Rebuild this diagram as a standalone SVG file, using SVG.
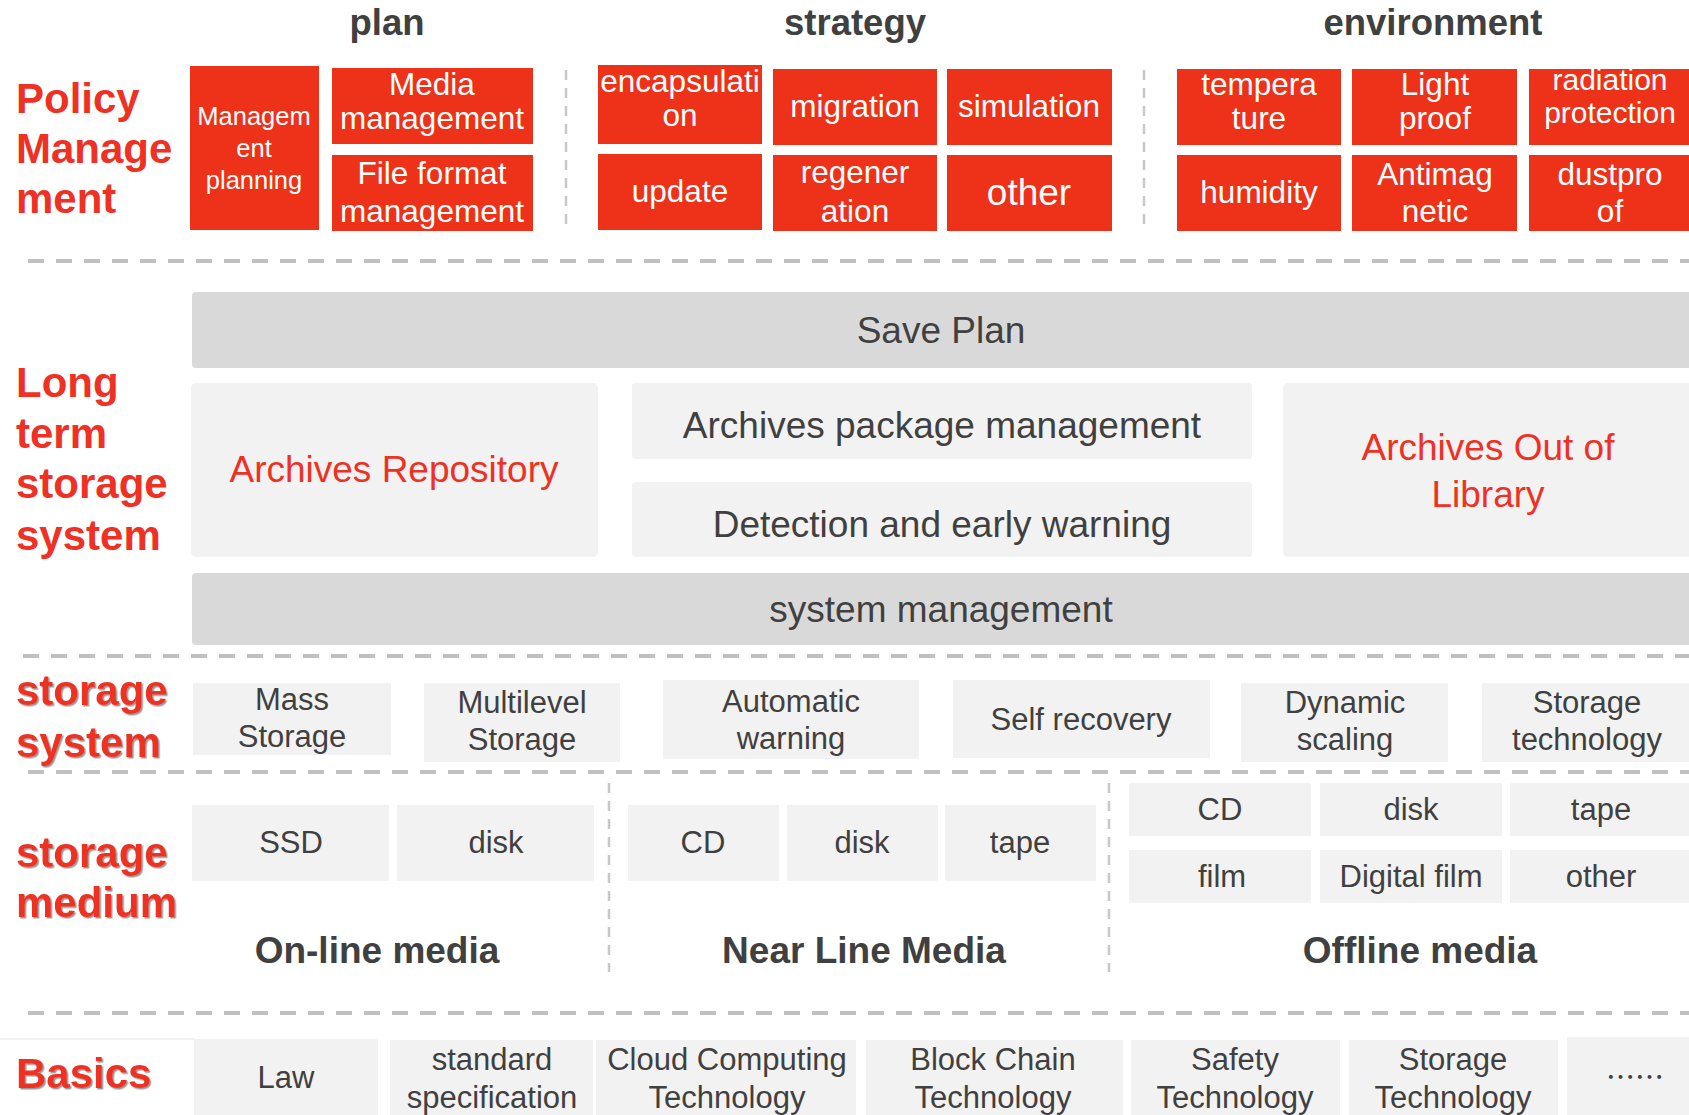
<svg xmlns="http://www.w3.org/2000/svg" width="1689" height="1115" viewBox="0 0 1689 1115">
<defs>
<style>
text{font-family:"Liberation Sans",Arial,sans-serif;text-anchor:middle}
.red{fill:#ee3219}
.lt{fill:#f2f2f2}
.dk{fill:#d9d9d9}
.w{fill:#fff;font-size:31.5px}
.g{fill:#404040;font-size:31px}
.g37{fill:#404040;font-size:37px}
.r37{fill:#ee3124;font-size:37px}
.lbl{fill:#ee3124;font-size:42px;font-weight:bold;text-anchor:start}
.hdr{fill:#404040;font-size:36.5px;font-weight:bold}
.sep{stroke:#c0c0c0;stroke-width:4;stroke-dasharray:16 12;fill:none}
.vsep{stroke:#c8c8c8;stroke-width:2.5;stroke-dasharray:10 8;fill:none}
</style>
<filter id="sh" x="-10%" y="-10%" width="130%" height="130%">
<feDropShadow dx="1.5" dy="1.5" stdDeviation="0.6" flood-color="#7f7f7f" flood-opacity="0.8"/>
</filter>
</defs>
<rect width="1689" height="1115" fill="#fff"/>

<g id="separators">
<line class="sep" x1="28" y1="261" x2="1689" y2="261"/>
<line class="sep" x1="23" y1="656" x2="1689" y2="656"/>
<line class="sep" x1="28" y1="772" x2="1689" y2="772"/>
<line class="sep" x1="28" y1="1013" x2="1689" y2="1013"/>
<line class="vsep" x1="566" y1="70" x2="566" y2="230"/>
<line class="vsep" x1="1144" y1="70" x2="1144" y2="230"/>
<line class="vsep" x1="609" y1="783" x2="609" y2="972"/>
<line class="vsep" x1="1109" y1="783" x2="1109" y2="972"/>
<line x1="0" y1="1039" x2="194" y2="1039" stroke="#ececec" stroke-width="1.5"/>
</g>

<!-- Section labels -->
<g id="label-policy">
<text class="lbl" x="16" y="113">Policy</text>
<text class="lbl" x="16" y="163">Manage</text>
<text class="lbl" x="16" y="213">ment</text>
</g>
<g id="label-longterm">
<text class="lbl" x="16" y="397">Long</text>
<text class="lbl" x="16" y="448">term</text>
<text class="lbl" x="16" y="498">storage</text>
<text class="lbl" x="16" y="550">system</text>
</g>
<g id="label-storage-system" filter="url(#sh)">
<text class="lbl" x="16" y="705">storage</text>
<text class="lbl" x="16" y="757">system</text>
</g>
<g id="label-storage-medium" filter="url(#sh)">
<text class="lbl" x="16" y="867">storage</text>
<text class="lbl" x="16" y="917">medium</text>
</g>
<g id="label-basics" filter="url(#sh)">
<text class="lbl" x="16" y="1088">Basics</text>
</g>

<!-- Headers -->
<g id="hdr-plan"><text class="hdr" x="387" y="35">plan</text></g>
<g id="hdr-strategy"><text class="hdr" x="855" y="35">strategy</text></g>
<g id="hdr-environment"><text class="hdr" x="1433" y="35">environment</text></g>

<!-- Plan -->
<g id="n-mgmt-planning">
<rect class="red" x="190" y="66" width="129" height="164"/>
<text class="w" style="font-size:25.5px" x="254" y="125">Managem</text>
<text class="w" style="font-size:25.5px" x="254" y="157">ent</text>
<text class="w" style="font-size:25.5px" x="254" y="189">planning</text>
</g>
<g id="n-media-mgmt">
<rect class="red" x="332" y="68" width="201" height="76"/>
<text class="w" x="432" y="95">Media</text>
<text class="w" x="432" y="129">management</text>
</g>
<g id="n-file-format">
<rect class="red" x="332" y="155" width="201" height="76"/>
<text class="w" x="432" y="184">File format</text>
<text class="w" x="432" y="222">management</text>
</g>

<!-- Strategy -->
<g id="n-encapsulation">
<rect class="red" x="598" y="65" width="164" height="79"/>
<text class="w" x="680" y="92">encapsulati</text>
<text class="w" x="680" y="126">on</text>
</g>
<g id="n-migration">
<rect class="red" x="773" y="69" width="164" height="76"/>
<text class="w" x="855" y="117">migration</text>
</g>
<g id="n-simulation">
<rect class="red" x="947" y="69" width="165" height="76"/>
<text class="w" x="1029" y="117">simulation</text>
</g>
<g id="n-update">
<rect class="red" x="598" y="154" width="164" height="76"/>
<text class="w" x="680" y="202">update</text>
</g>
<g id="n-regeneration">
<rect class="red" x="773" y="155" width="164" height="76"/>
<text class="w" x="855" y="183">regener</text>
<text class="w" x="855" y="222">ation</text>
</g>
<g id="n-other-strategy">
<rect class="red" x="947" y="155" width="165" height="76"/>
<text class="w" style="font-size:37px" x="1029" y="205">other</text>
</g>

<!-- Environment -->
<g id="n-temperature">
<rect class="red" x="1177" y="69" width="164" height="76"/>
<text class="w" x="1259" y="95">tempera</text>
<text class="w" x="1259" y="129">ture</text>
</g>
<g id="n-lightproof">
<rect class="red" x="1352" y="69" width="165" height="76"/>
<text class="w" x="1435" y="95">Light</text>
<text class="w" x="1435" y="129">proof</text>
</g>
<g id="n-radiation">
<rect class="red" x="1529" y="69" width="160" height="76"/>
<text class="w" style="font-size:30px" x="1610" y="90">radiation</text>
<text class="w" style="font-size:30px" x="1610" y="123">protection</text>
</g>
<g id="n-humidity">
<rect class="red" x="1177" y="155" width="164" height="76"/>
<text class="w" x="1259" y="203">humidity</text>
</g>
<g id="n-antimagnetic">
<rect class="red" x="1352" y="155" width="165" height="76"/>
<text class="w" x="1435" y="185">Antimag</text>
<text class="w" x="1435" y="222">netic</text>
</g>
<g id="n-dustproof">
<rect class="red" x="1529" y="155" width="160" height="76"/>
<text class="w" x="1610" y="185">dustpro</text>
<text class="w" x="1610" y="222">of</text>
</g>

<!-- Long term storage system -->
<g id="n-save-plan">
<rect class="dk" x="192" y="292" width="1510" height="76" rx="4"/>
<text class="g37" x="941" y="343">Save Plan</text>
</g>
<g id="n-archives-repository">
<rect class="lt" x="191" y="383" width="407" height="174" rx="5"/>
<text class="r37" x="394" y="482">Archives Repository</text>
</g>
<g id="n-package-mgmt">
<rect class="lt" x="632" y="383" width="620" height="76" rx="3"/>
<text class="g37" x="942" y="438">Archives package management</text>
</g>
<g id="n-detection">
<rect class="lt" x="632" y="482" width="620" height="75" rx="3"/>
<text class="g37" x="942" y="537">Detection and early warning</text>
</g>
<g id="n-out-of-library">
<rect class="lt" x="1283" y="383" width="420" height="174" rx="5"/>
<text class="r37" x="1488" y="460">Archives Out of</text>
<text class="r37" x="1488" y="507">Library</text>
</g>
<g id="n-system-mgmt">
<rect class="dk" x="192" y="573" width="1510" height="72" rx="4"/>
<text class="g37" x="941" y="622">system management</text>
</g>

<!-- Storage system -->
<g id="n-mass-storage">
<rect class="lt" x="193" y="683" width="198" height="72"/>
<text class="g" x="292" y="710">Mass</text>
<text class="g" x="292" y="747">Storage</text>
</g>
<g id="n-multilevel-storage">
<rect class="lt" x="424" y="683" width="196" height="79"/>
<text class="g" x="522" y="713">Multilevel</text>
<text class="g" x="522" y="750">Storage</text>
</g>
<g id="n-automatic-warning">
<rect class="lt" x="663" y="680" width="256" height="79"/>
<text class="g" x="791" y="712">Automatic</text>
<text class="g" x="791" y="749">warning</text>
</g>
<g id="n-self-recovery">
<rect class="lt" x="953" y="680" width="257" height="78"/>
<text class="g" x="1081" y="730">Self recovery</text>
</g>
<g id="n-dynamic-scaling">
<rect class="lt" x="1241" y="683" width="207" height="79"/>
<text class="g" x="1345" y="713">Dynamic</text>
<text class="g" x="1345" y="750">scaling</text>
</g>
<g id="n-storage-technology">
<rect class="lt" x="1482" y="683" width="207" height="79"/>
<text class="g" x="1587" y="713">Storage</text>
<text class="g" x="1587" y="750">technology</text>
</g>

<!-- Storage medium -->
<g id="n-ssd">
<rect class="lt" x="192" y="805" width="197" height="76"/>
<text class="g" x="291" y="853">SSD</text>
</g>
<g id="n-online-disk">
<rect class="lt" x="397" y="805" width="197" height="76"/>
<text class="g" x="496" y="853">disk</text>
</g>
<g id="n-near-cd">
<rect class="lt" x="628" y="805" width="151" height="76"/>
<text class="g" x="703" y="853">CD</text>
</g>
<g id="n-near-disk">
<rect class="lt" x="787" y="805" width="151" height="76"/>
<text class="g" x="862" y="853">disk</text>
</g>
<g id="n-near-tape">
<rect class="lt" x="945" y="805" width="151" height="76"/>
<text class="g" x="1020" y="853">tape</text>
</g>
<g id="n-off-cd">
<rect class="lt" x="1129" y="783" width="182" height="53"/>
<text class="g" x="1220" y="820">CD</text>
</g>
<g id="n-off-disk">
<rect class="lt" x="1320" y="783" width="182" height="53"/>
<text class="g" x="1411" y="820">disk</text>
</g>
<g id="n-off-tape">
<rect class="lt" x="1510" y="783" width="179" height="53"/>
<text class="g" x="1601" y="820">tape</text>
</g>
<g id="n-off-film">
<rect class="lt" x="1129" y="850" width="182" height="53"/>
<text class="g" x="1222" y="887">film</text>
</g>
<g id="n-off-digital-film">
<rect class="lt" x="1320" y="850" width="182" height="53"/>
<text class="g" x="1411" y="887">Digital film</text>
</g>
<g id="n-off-other">
<rect class="lt" x="1510" y="850" width="179" height="53"/>
<text class="g" x="1601" y="887">other</text>
</g>
<g id="grp-online"><text class="hdr" style="font-size:37px" x="377" y="963">On-line media</text></g>
<g id="grp-nearline"><text class="hdr" style="font-size:37px" x="864" y="963">Near Line Media</text></g>
<g id="grp-offline"><text class="hdr" style="font-size:37px" x="1420" y="963">Offline media</text></g>

<!-- Basics -->
<g id="n-law">
<rect class="lt" x="194" y="1039" width="184" height="80"/>
<text class="g" x="286" y="1088">Law</text>
</g>
<g id="n-standard">
<rect class="lt" x="390" y="1040" width="203" height="80"/>
<text class="g" x="492" y="1070">standard</text>
<text class="g" x="492" y="1108">specification</text>
</g>
<g id="n-cloud">
<rect class="lt" x="596" y="1040" width="260" height="80"/>
<text class="g" x="727" y="1070">Cloud Computing</text>
<text class="g" x="727" y="1108">Technology</text>
</g>
<g id="n-blockchain">
<rect class="lt" x="866" y="1040" width="257" height="80"/>
<text class="g" x="993" y="1070">Block Chain</text>
<text class="g" x="993" y="1108">Technology</text>
</g>
<g id="n-safety">
<rect class="lt" x="1131" y="1040" width="209" height="80"/>
<text class="g" x="1235" y="1070">Safety</text>
<text class="g" x="1235" y="1108">Technology</text>
</g>
<g id="n-storage-tech">
<rect class="lt" x="1349" y="1040" width="209" height="80"/>
<text class="g" x="1453" y="1070">Storage</text>
<text class="g" x="1453" y="1108">Technology</text>
</g>
<g id="n-more">
<rect class="lt" x="1567" y="1037" width="122" height="83"/>
<text class="g" style="font-family:'Noto Sans CJK SC','Liberation Sans',sans-serif;font-size:29px" x="1635" y="1088">……</text>
</g>
</svg>
